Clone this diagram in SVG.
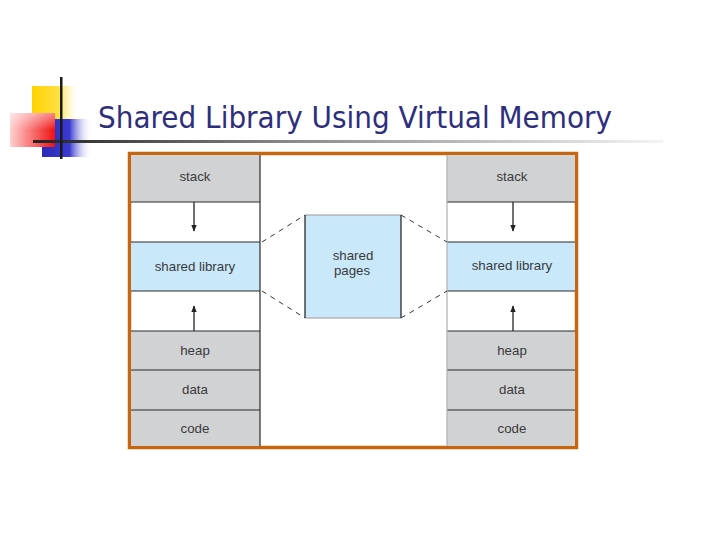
<svg xmlns="http://www.w3.org/2000/svg" width="720" height="540" viewBox="0 0 720 540">
<defs>
<linearGradient id="gY" x1="0" y1="0" x2="1" y2="0"><stop offset="0" stop-color="#ffd200"/><stop offset="0.6" stop-color="#ffe040"/><stop offset="1" stop-color="#fff8d0" stop-opacity="0.2"/></linearGradient>
<linearGradient id="gB" x1="0" y1="0" x2="1" y2="0"><stop offset="0" stop-color="#2a2ab8"/><stop offset="0.55" stop-color="#3a3ad0"/><stop offset="1" stop-color="#ffffff" stop-opacity="0"/></linearGradient>
<linearGradient id="gR" x1="0" y1="0" x2="1" y2="0"><stop offset="0" stop-color="#ffd0d0"/><stop offset="1" stop-color="#f01010"/></linearGradient>
<linearGradient id="gR2" x1="0" y1="0" x2="0" y2="1"><stop offset="0" stop-color="#ffffff" stop-opacity="0.5"/><stop offset="0.5" stop-color="#ffffff" stop-opacity="0"/></linearGradient>
<linearGradient id="gL" x1="0" y1="0" x2="1" y2="0"><stop offset="0" stop-color="#222222"/><stop offset="0.4" stop-color="#888888"/><stop offset="1" stop-color="#f4f4f4"/></linearGradient>
<marker id="ah" viewBox="0 0 10 10" refX="9" refY="5" markerWidth="7" markerHeight="7" orient="auto" markerUnits="userSpaceOnUse"><path d="M0,1 L10,5 L0,9 Z" fill="#222"/></marker>
</defs>
<style>
.gray{fill:#d1d2d4;}
.blue{fill:#c9e8fa;}
.lbl{font-family:"Liberation Sans",Arial,sans-serif;font-size:13.3px;fill:#3a3a3a;text-anchor:middle;}
.sep{stroke:#2a2a2a;stroke-width:1.2;}
.dash{stroke:#333;stroke-width:1;stroke-dasharray:5,5;fill:none;}
.arr{stroke:#222;stroke-width:1.3;marker-end:url(#ah);}
</style>
<rect width="720" height="540" fill="#ffffff"/>
<g id="logo">
<rect x="32" y="86" width="44" height="36" fill="url(#gY)"/>
<rect x="42" y="119" width="50" height="38" fill="url(#gB)"/>
<rect x="10" y="113" width="45" height="34" fill="url(#gR)"/>
<rect x="10" y="113" width="45" height="34" fill="url(#gR2)"/>
<rect x="33" y="140" width="630" height="3" fill="url(#gL)"/>
<rect x="60" y="77" width="2.5" height="82" fill="#1a1a1a"/>
</g>
<text id="title" x="98" y="128" font-family="Tahoma,'DejaVu Sans','Liberation Sans',sans-serif" font-size="30" fill="#2e2e7e" textLength="514" lengthAdjust="spacingAndGlyphs">Shared Library Using Virtual Memory</text>
<g id="frame">
<rect x="129.5" y="153.5" width="447" height="294" fill="#ffffff" stroke="#c8650f" stroke-width="3.5"/>
</g>
<g id="left-process">
<rect class="gray" x="131" y="155" width="129" height="47"/>
<rect class="blue" x="131" y="242" width="129" height="49"/>
<rect class="gray" x="131" y="331" width="129" height="115"/>
<line class="sep" x1="131" y1="202" x2="260" y2="202" stroke="#999"/>
<line class="sep" x1="131" y1="242" x2="260" y2="242"/>
<line class="sep" x1="131" y1="291" x2="260" y2="291"/>
<line class="sep" x1="131" y1="331" x2="260" y2="331" stroke="#999"/>
<line class="sep" x1="131" y1="370" x2="260" y2="370"/>
<line class="sep" x1="131" y1="410" x2="260" y2="410"/>
<line class="sep" x1="260" y1="155" x2="260" y2="446"/>
<text class="lbl" x="195" y="181">stack</text>
<text class="lbl" x="195" y="271">shared library</text>
<text class="lbl" x="195" y="355">heap</text>
<text class="lbl" x="195" y="394">data</text>
<text class="lbl" x="195" y="433">code</text>
</g>
<g id="right-process">
<rect class="gray" x="447" y="155" width="128" height="47"/>
<rect class="blue" x="447" y="242" width="128" height="49"/>
<rect class="gray" x="447" y="331" width="128" height="115"/>
<line class="sep" x1="447" y1="202" x2="575" y2="202" stroke="#999"/>
<line class="sep" x1="447" y1="242" x2="575" y2="242"/>
<line class="sep" x1="447" y1="291" x2="575" y2="291"/>
<line class="sep" x1="447" y1="331" x2="575" y2="331" stroke="#999"/>
<line class="sep" x1="447" y1="370" x2="575" y2="370"/>
<line class="sep" x1="447" y1="410" x2="575" y2="410"/>
<line x1="447" y1="155" x2="447" y2="446" stroke="#b0b0b0" stroke-width="1.2"/>
<text class="lbl" x="512" y="181">stack</text>
<text class="lbl" x="512" y="270">shared library</text>
<text class="lbl" x="512" y="355">heap</text>
<text class="lbl" x="512" y="394">data</text>
<text class="lbl" x="512" y="433">code</text>
</g>
<g id="shared-pages">
<rect class="blue" x="305" y="215" width="96" height="103"/>
<line x1="305" y1="215" x2="401" y2="215" stroke="#999" stroke-width="1"/>
<line x1="305" y1="318" x2="401" y2="318" stroke="#999" stroke-width="1"/>
<line x1="305" y1="215" x2="305" y2="318" stroke="#2a2a2a" stroke-width="1.3"/>
<line x1="401" y1="215" x2="401" y2="318" stroke="#2a2a2a" stroke-width="1.3"/>
<text class="lbl" x="353" y="260">shared</text>
<text class="lbl" x="352" y="275">pages</text>
</g>
<g id="connectors">
<line class="dash" x1="262" y1="242" x2="305" y2="215"/>
<line class="dash" x1="262" y1="291" x2="305" y2="318"/>
<line class="dash" x1="401" y1="215" x2="447" y2="242"/>
<line class="dash" x1="401" y1="318" x2="447" y2="291"/>
<line class="arr" x1="194" y1="202" x2="194" y2="231"/>
<line class="arr" x1="194" y1="331" x2="194" y2="306"/>
<line class="arr" x1="513" y1="202" x2="513" y2="231"/>
<line class="arr" x1="513" y1="331" x2="513" y2="306"/>
</g>
</svg>
